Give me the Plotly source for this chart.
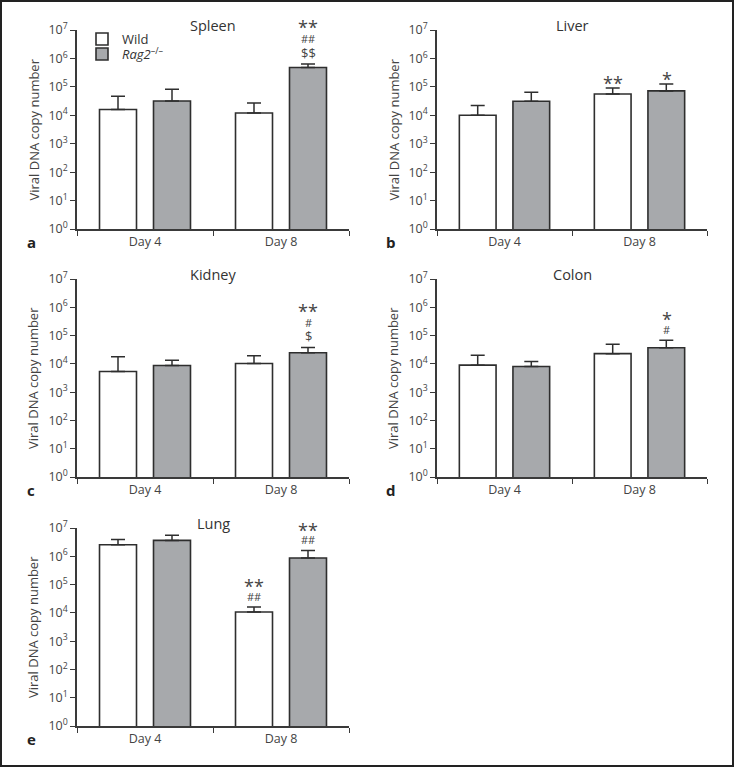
import math
import plotly.graph_objects as go

# ---------------- data ----------------
days = ["Day 4", "Day 8"]
panel_titles = ["Spleen", "Liver", "Kidney", "Colon", "Lung"]
panel_letters = ["a", "b", "c", "d", "e"]

spleen_wild = [1.6e4, 1.2e4]
spleen_wild_top = [4.7e4, 2.7e4]
spleen_rag = [3.2e4, 4.8e5]
spleen_rag_top = [8.3e4, 6.4e5]

liver_wild = [1.0e4, 5.6e4]
liver_wild_top = [2.2e4, 9.1e4]
liver_rag = [3.1e4, 7.2e4]
liver_rag_top = [6.4e4, 1.26e5]

kidney_wild = [5.4e3, 1.03e4]
kidney_wild_top = [1.78e4, 1.94e4]
kidney_rag = [8.7e3, 2.46e4]
kidney_rag_top = [1.35e4, 3.8e4]

colon_wild = [9.0e3, 2.3e4]
colon_wild_top = [2.0e4, 4.9e4]
colon_rag = [8.1e3, 3.7e4]
colon_rag_top = [1.2e4, 6.9e4]

lung_wild = [2.57e6, 1.07e4]
lung_wild_top = [3.9e6, 1.6e4]
lung_rag = [3.65e6, 8.7e5]
lung_rag_top = [5.5e6, 1.6e6]

wild_values = [spleen_wild, liver_wild, kidney_wild, colon_wild, lung_wild]
wild_tops = [spleen_wild_top, liver_wild_top, kidney_wild_top, colon_wild_top, lung_wild_top]
rag_values = [spleen_rag, liver_rag, kidney_rag, colon_rag, lung_rag]
rag_tops = [spleen_rag_top, liver_rag_top, kidney_rag_top, colon_rag_top, lung_rag_top]

# significance marks: (panel index, day, group, symbols from bottom to top)
significance = [
    (0, "Day 8", "rag", ["$$", "##", "**"]),
    (1, "Day 8", "wild", ["**"]),
    (1, "Day 8", "rag", ["*"]),
    (2, "Day 8", "rag", ["$", "#", "**"]),
    (3, "Day 8", "rag", ["#", "*"]),
    (4, "Day 8", "wild", ["##", "**"]),
    (4, "Day 8", "rag", ["##", "**"]),
]

y_tickvals = [10 ** k for k in range(8)]
y_ticktext = ["10<sup>%d</sup>" % k for k in range(8)]

# ---------------- styling ----------------
W, H = 734, 767
FONT = "Open Sans"
TXT = "#444444"
AX = "#3a3a3a"
GRAY = "#a7a9ac"
EDGE = "#2e2e2e"

col_domains = [[77 / W, 349 / W], [437 / W, 707 / W]]
row_domains = [[1 - 229 / H, 1 - 30 / H], [1 - 477 / H, 1 - 279 / H], [1 - 726 / H, 1 - 528 / H]]
positions = [(0, 0), (0, 1), (1, 0), (1, 1), (2, 0)]

fig = go.Figure()
layout = {}
annotations = []

for i, title in enumerate(panel_titles):
    r, c = positions[i]
    n = "" if i == 0 else str(i + 1)
    xa, ya = "x" + n, "y" + n
    for name, vals, tops, fill, lg in [
        ("Wild", wild_values[i], wild_tops[i], "white", "legend"),
        ("<i>Rag2</i><sup>–/–</sup>", rag_values[i], rag_tops[i], GRAY, "legend2"),
    ]:
        fig.add_trace(go.Bar(
            x=days, y=vals, name=name, xaxis=xa, yaxis=ya,
            marker=dict(color=fill, line=dict(color=EDGE, width=1.6)),
            error_y=dict(type="data", symmetric=False,
                         array=[t - v for t, v in zip(tops, vals)],
                         arrayminus=[0] * len(vals),
                         color=EDGE, thickness=1.5, width=7),
            showlegend=(i == 0), legendgroup=name, legend=lg,
        ))
    layout["xaxis" + n] = dict(
        domain=col_domains[c], anchor=ya, type="category", range=[-0.5, 1.5],
        showline=True, linecolor=AX, linewidth=1.5, ticks="outside", tickson="boundaries",
        ticklen=5, tickwidth=1.2, tickcolor=AX, showgrid=False, zeroline=False,
        automargin=False,
        tickfont=dict(family=FONT, size=12.5, color=TXT),
    )
    layout["yaxis" + n] = dict(
        domain=row_domains[r], anchor=xa, type="log", range=[0, 7],
        tickvals=y_tickvals, ticktext=y_ticktext,
        showline=True, linecolor=AX, linewidth=1.5, ticks="outside", ticklen=5,
        tickwidth=1.2, tickcolor=AX, showgrid=False, zeroline=False,
        automargin=False,
        tickfont=dict(family=FONT, size=12.5, color=TXT),
    )
    # y-axis title
    annotations.append(dict(
        text="Viral DNA copy number", xref="paper", yref="paper", textangle=-90,
        x=col_domains[c][0], y=sum(row_domains[r]) / 2, xanchor="center", yanchor="middle",
        xshift=-44, showarrow=False, font=dict(family=FONT, size=13, color=TXT),
    ))
    # panel title
    annotations.append(dict(
        text=title, xref="paper", yref="paper",
        x=sum(col_domains[c]) / 2, y=row_domains[r][1], xanchor="center", yanchor="middle",
        yshift=5, showarrow=False, font=dict(family=FONT, size=14.5, color="#333333"),
    ))
    # panel letter
    annotations.append(dict(
        text="<b>%s</b>" % panel_letters[i], xref="paper", yref="paper",
        x=col_domains[c][0], y=row_domains[r][0], xanchor="center", yanchor="middle",
        xshift=-46, yshift=-13, showarrow=False,
        font=dict(family=FONT, size=15, color="#222222"),
    ))

# significance annotations
for (pi, day, grp, syms) in significance:
    n = "" if pi == 0 else str(pi + 1)
    tops = rag_tops[pi] if grp == "rag" else wild_tops[pi]
    top = tops[days.index(day)]
    for k, s in enumerate(syms):
        star = "*" in s
        size = 18 if star else (11 if "#" in s else 13)
        shift = (5.5 + 15.5 * k) if star else (11 + 14 * k)
        annotations.append(dict(
            text=s, xref="x" + n, yref="y" + n, x=day, y=math.log10(top),
            xshift=27 if grp == "rag" else -27, xanchor="center",
            yanchor="middle", yshift=shift,
            showarrow=False, font=dict(family=FONT, size=size, color="#444444"),
        ))

leg_common = dict(xanchor="left", yanchor="top", bgcolor="rgba(0,0,0,0)",
                  font=dict(family=FONT, size=13, color="#333333"))

fig.update_layout(
    **layout,
    annotations=annotations,
    width=W, height=H, margin=dict(l=0, r=0, t=0, b=0),
    paper_bgcolor="white", plot_bgcolor="white",
    barmode="group", bargap=0.206, bargroupgap=0.315,
    font=dict(family=FONT, size=13, color=TXT),
    legend=dict(x=82 / W, y=1 - 24 / H, **leg_common),
    legend2=dict(x=82 / W, y=1 - 39 / H, **leg_common),
    shapes=[dict(type="rect", xref="paper", yref="paper", x0=0, y0=0, x1=1, y1=1,
                 line=dict(color="#222222", width=4), layer="above")],
)

fig.write_html("out.html", post_script="document.body.style.margin='0';")
